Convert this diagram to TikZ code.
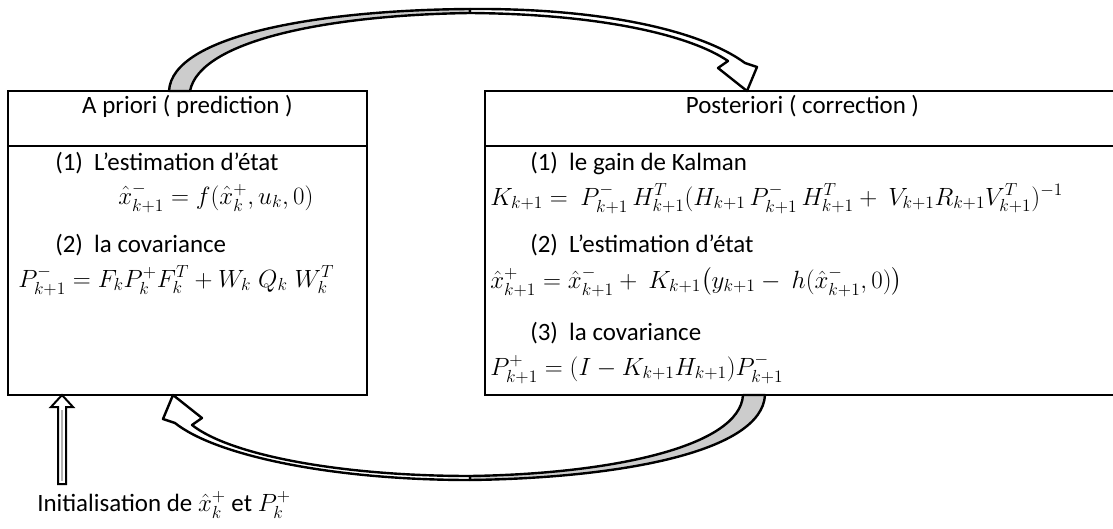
\RequirePackage{fix-cm}
\documentclass[tikz,border=0pt]{standalone}
\usepackage{fontspec}
\setmainfont{Carlito}
\usepackage{amsmath}
\usetikzlibrary{calc}

\begin{document}
\begin{tikzpicture}[
    x=0.75pt, y=-0.75pt,
    font=\fontsize{18.7}{22}\selectfont,
    hdrbox/.style={draw, line width=1pt, minimum height=41.25pt, inner sep=0pt, outer sep=0pt, anchor=north west, text height=13pt, text depth=19.8pt},
    bodybox/.style={draw, line width=1pt, minimum height=186.75pt, inner sep=0pt, outer sep=0pt, anchor=north west},
    txt/.style={anchor=base west, inner sep=0pt},
    ribbon/.style={draw=black, line width=1.8pt, line join=round},
    initarrow/.style={draw=black, line width=1.5pt, fill=white, line join=miter}
]
\useasboundingbox (0,0) rectangle (1113,528);

% ===== A PRIORI =====
\node[hdrbox, minimum width=269.25pt] (hdrA) at (8,91) {A priori ( prediction )};
\node[bodybox, minimum width=269.25pt] (bodyA) at (hdrA.south west) {};
\node[txt] (estA) at (55,170) {(1)\hspace{0.45em}L’estimation d’état};
\node[txt] (eqxA) at (118,204) {$\hat{x}^{-}_{k+1} = f(\hat{x}^{+}_{k}, u_{k}, 0)$};
\node[txt] (covA) at (55,252) {(2)\hspace{0.45em}la covariance};
\node[txt] (eqpA) at (18,287) {$P^{-}_{k+1} = F_{k}P^{+}_{k}F^{T}_{k} + W_{k}\;Q_{k}\;W^{T}_{k}$};

% ===== POSTERIORI =====
\node[hdrbox, minimum width=476.25pt] (hdrB) at (485,91) {Posteriori ( correction )};
\node[bodybox, minimum width=476.25pt] (bodyB) at (hdrB.south west) {};
\node[txt] (gainB) at (530,170) {(1)\hspace{0.45em}le gain de Kalman};
\node[txt] (eqkB) at (490,205) {$K_{k+1} =\ P^{-}_{k+1}\, H^{T}_{k+1}(H_{k+1}\, P^{-}_{k+1}\, H^{T}_{k+1} +\ V_{k+1}R_{k+1}V^{T}_{k+1})^{-1}$};
\node[txt] (estB) at (530,252) {(2)\hspace{0.45em}L’estimation d’état};
\node[txt] (eqxB) at (490,288) {$\hat{x}^{+}_{k+1} = \hat{x}^{-}_{k+1} +\ K_{k+1}\bigl(y_{k+1} -\ h(\hat{x}^{-}_{k+1}, 0)\bigr)$};
\node[txt] (covB) at (530,340) {(3)\hspace{0.45em}la covariance};
\node[txt] (eqpB) at (490,375) {$P^{+}_{k+1} = (I - K_{k+1}H_{k+1})P^{-}_{k+1}$};

% ===== CYCLE ARROWS =====
\coordinate (topS1) at ($(hdrA.north west)+(161,0)$);
\coordinate (topS2) at ($(hdrA.north west)+(182,0)$);
\coordinate (topT) at ($(hdrB.north west)+(262,0)$);
\filldraw[ribbon, fill=gray!40] (topS1) .. controls (172,35) and (320,10) .. (470,9) -- (470,13) .. controls (330,15) and (200,40) .. (topS2) -- cycle;
\filldraw[ribbon, fill=white] (470,9) .. controls (600,8) and (700,30) .. (745,63) -- (757,67) -- (topT) -- (718,68) -- (728,61) .. controls (690,35) and (600,14) .. (470,13) -- cycle;

\coordinate (botS1) at ($(bodyB.south west)+(280,0)$);
\coordinate (botS2) at ($(bodyB.south west)+(258,0)$);
\coordinate (botT) at ($(bodyA.south west)+(165,0)$);
\filldraw[ribbon, fill=gray!40] (botS1) .. controls (762,452) and (620,478) .. (470,480) -- (470,476) .. controls (610,474) and (740,447) .. (botS2) -- cycle;
\filldraw[ribbon, fill=white] (470,480) .. controls (330,480) and (215,455) .. (175,423) -- (163,419) -- (botT) -- (202,418) -- (192,425) .. controls (230,455) and (340,476) .. (470,476) -- cycle;

% ===== INITIALISATION =====
\node[txt] (init) at (37,511) {Initialisation de $\hat{x}_{k}^{+}$ et $P_{k}^{+}$};
\coordinate (initT) at ($(bodyA.south west)+(54,0)$);
\filldraw[initarrow] (initT) -- (73,407) -- (66,407) -- (66,484) -- (58,484) -- (58,407) -- (51,407) -- cycle;
\draw[gray!60, line width=1pt] (62,410) -- (62,481);

\end{tikzpicture}
\end{document}
